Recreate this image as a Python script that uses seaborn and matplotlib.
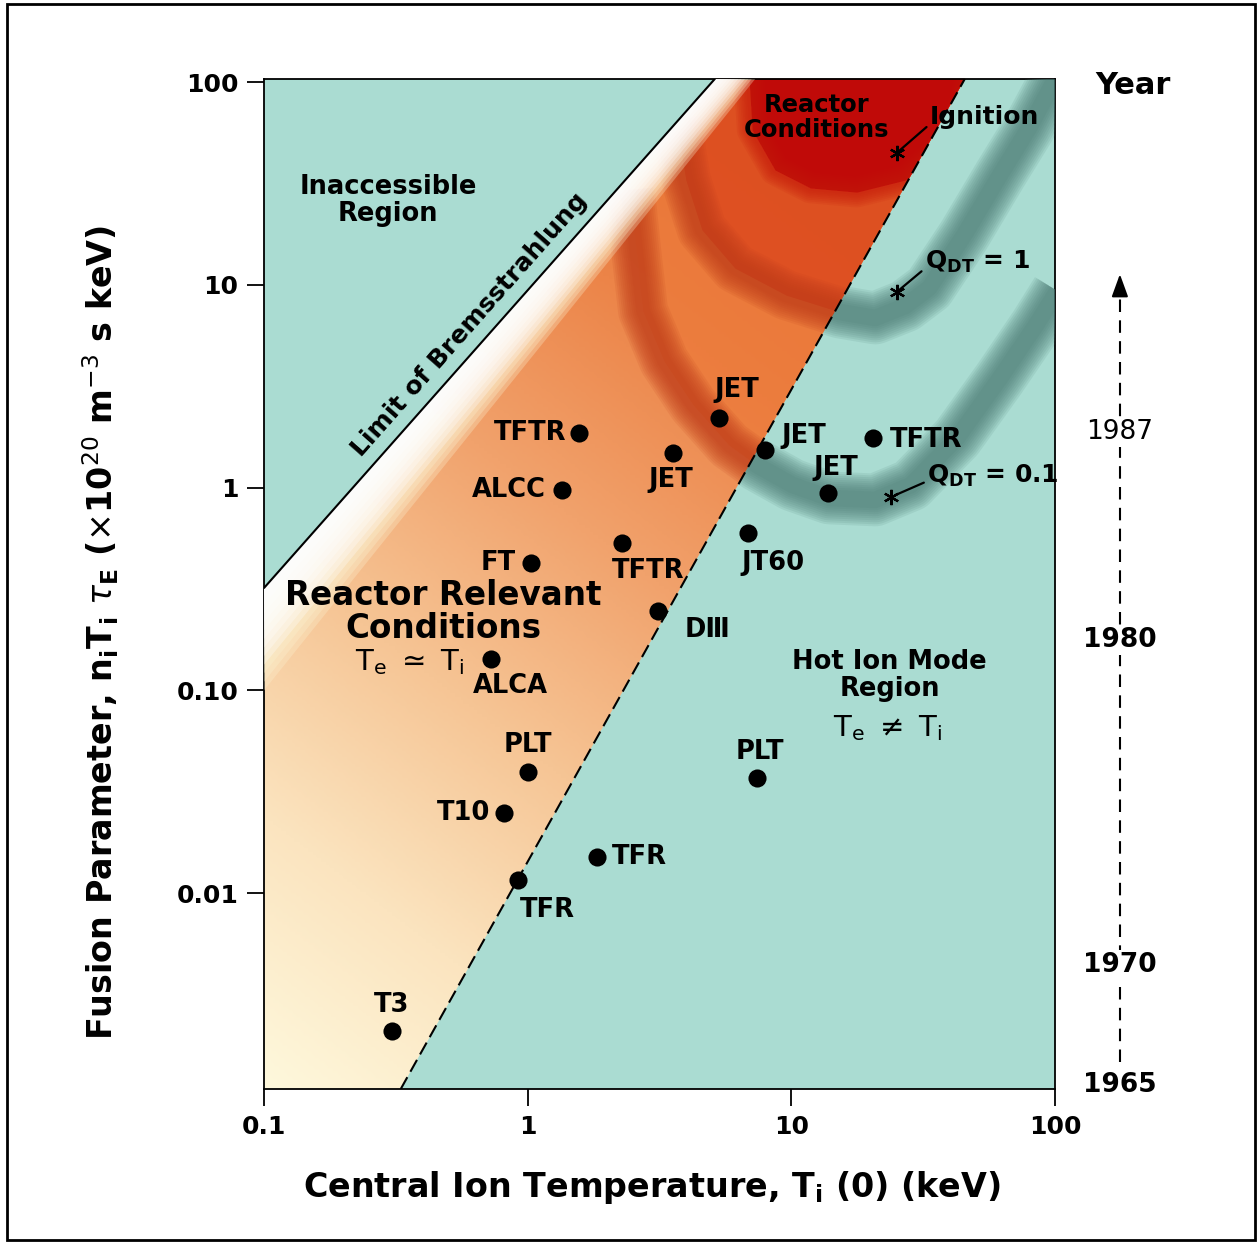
import numpy as np
import matplotlib
matplotlib.use("Agg")
import matplotlib.pyplot as plt
import seaborn as sns
from matplotlib.colors import LinearSegmentedColormap
from matplotlib.patches import Polygon, Rectangle
from matplotlib.ticker import NullLocator
from matplotlib.transforms import blended_transform_factory

# tokamak results: central ion temperature (keV) vs n_i T_i tau_E (1e20 m^-3 s keV)
machines = ["T3", "TFR", "TFR", "T10", "PLT", "PLT", "ALCA", "D\u2162", "FT", "TFTR",
            "ALCC", "TFTR", "JET", "JET", "JET", "JET", "TFTR", "JT60"]
ion_temp = [0.305, 0.918, 1.83, 0.813, 1.0, 7.41, 0.726, 3.12, 1.03, 2.28,
            1.35, 1.57, 3.56, 5.31, 7.94, 13.8, 20.4, 6.84]
fusion_par = [0.00208, 0.0116, 0.0151, 0.0248, 0.0395, 0.0369, 0.143, 0.246, 0.425, 0.533,
              0.973, 1.86, 1.48, 2.20, 1.53, 0.94, 1.76, 0.597]

# region boundaries
brems_T = [0.1, 5.13]
brems_n = [0.32, 104]
hotion_T = [0.33, 45.5]
hotion_n = [0.00108, 104]
white_T = [0.1, 7.3]
white_n = [0.10, 104]

# Q_DT contours and ignition
q01_T = [2.44, 2.58, 2.74, 3.29, 4.24, 5.80, 7.41, 10.1, 13.9, 20.8, 28.4, 42.5, 61.8, 84.7, 102]
q01_n = [29.4, 14.7, 7.43, 4.21, 2.56, 1.62, 1.29, 1.03, 0.89, 0.87, 1.03, 1.76, 3.47, 6.34, 9.33]
q1_T = [3.65, 3.98, 4.58, 6.11, 9.55, 15.3, 20.8, 27.0, 33.3, 45.2, 61.8, 79.6, 100]
q1_n = [65.1, 32.9, 18.7, 12.1, 8.91, 7.35, 6.87, 7.87, 9.66, 17.6, 34.8, 59.4, 103]
ign_T = [6.84, 7.10, 8.67, 11.8, 17.7, 27.0, 36.6, 44.4, 49.7]
ign_n = [129, 58.1, 36.9, 30.1, 28.7, 32.9, 46.3, 72.9, 129]

star_T = [25.1, 25.1, 23.9]
star_n = [44.8, 9.23, 0.90]
star_text = ["Ignition", r"Q$_\mathbf{DT}$ = 1", r"Q$_\mathbf{DT}$ = 0.1"]

years = ["1965", "1970", "1980", "1987"]
year_level = [0.00113, 0.00441, 0.177, 1.88]

x_ticks = [0.1, 1, 10, 100]
x_labels = ["0.1", "1", "10", "100"]
y_ticks = [0.01, 0.1, 1, 10, 100]
y_labels = ["0.01", "0.10", "1", "10", "100"]

# label placement (points from the dot) and alignment
lab_off = [(0, 18.7), (20.9, -21.6), (10.8, 0), (-10, 0), (0, 19.4), (2, 18.7), (13.7, -19.4),
           (36, -13.7), (-10.8, 0), (18.7, -20.2), (-11.5, 0), (-9.4, 0), (-2, -19.4),
           (13, 20), (12.2, 10), (5.8, 18), (12.2, -1.4), (18, -21.6)]
lab_ha = ["center", "center", "left", "right", "center", "center", "center", "center", "right",
          "center", "right", "right", "center", "center", "left", "center", "left", "center"]
star_off = [(23.8, 25.9), (20.2, 21.6), (25.9, 15.1)]
star_rel = [(0.0, 0.2), (0.0, 0.25), (0.0, 0.3)]
year_weight = ["bold", "bold", "bold", "normal"]

sns.set_theme(style="white", rc={"text.color": "black", "axes.labelcolor": "black",
                                 "xtick.color": "black", "ytick.color": "black",
                                 "axes.edgecolor": "black"})
plt.rcParams["font.family"] = ["DejaVu Sans"]
plt.rcParams["mathtext.fontset"] = "dejavusans"

fig = plt.figure(figsize=(12.59, 12.45), dpi=100)
ax = fig.add_axes([0.2097, 0.1253, 0.6283, 0.8112])
ax.set_xscale("log")
ax.set_yscale("log")
ax.set_xlim(0.1, 100)
ax.set_ylim(0.00108, 103.7)
ax.set_facecolor("#aadcd2")
x0, x1 = ax.get_xlim()
y0, y1 = ax.get_ylim()


def soft_line(T, n, color, clip, wide, narrow, steps, alpha, z=3):
    # airbrushed band: stacked translucent strokes
    for lw in np.linspace(wide, narrow, steps):
        ln, = ax.plot(T, n, color=color, lw=lw, alpha=alpha, solid_capstyle="butt",
                      solid_joinstyle="round", zorder=z)
        ln.set_clip_path(clip)


# clipping regions
reactor = Polygon([(brems_T[0], brems_n[0]), (brems_T[1], brems_n[1]),
                   (hotion_T[1], hotion_n[1]), (hotion_T[0], hotion_n[0]), (x0, y0)],
                  closed=True, fc="none", ec="none", transform=ax.transData)
ax.add_patch(reactor)
hotion = Polygon([(hotion_T[0], hotion_n[0]), (hotion_T[1], hotion_n[1]),
                  (x1 * 1.2, hotion_n[1]), (x1 * 1.2, y0)],
                 closed=True, fc="none", ec="none", transform=ax.transData)
ax.add_patch(hotion)

# reactor relevant region shading
grad_cmap = LinearSegmentedColormap.from_list(
    "reactor", ["#fef8dc", "#fbe4bf", "#f6c595", "#f1a26c", "#ec8448", "#e46a30"])
gx, gy = np.meshgrid(np.linspace(0, 1, 300), np.linspace(0, 1, 300))
shade = np.clip(0.75 * gy + 0.45 * gx, 0, 1)
img = ax.imshow(shade, cmap=grad_cmap, origin="lower", extent=(0, 1, 0, 1),
                transform=ax.transAxes, aspect="auto", interpolation="bilinear", zorder=1)
img.set_clip_path(reactor)

for T, n, col, a in [(q01_T, q01_n, "#ec7a3a", 0.7),
                     (q1_T, q1_n, "#dc4a1e", 0.85),
                     (ign_T, ign_n, "#c00a08", 1.0)]:
    f = ax.fill_between(T, n, 1000, color=col, alpha=a, lw=0, zorder=2)
    f.set_clip_path(reactor)
soft_line(ign_T, ign_n, "#c81a0c", reactor, 22, 4, 8, 0.12, z=2.5)

# Q bands, dark orange inside the reactor region, grey-green in the hot ion region
for T, n in [(q01_T, q01_n), (q1_T, q1_n)]:
    soft_line(T, n, "#c03c1a", reactor, 36, 10, 10, 0.12)
    soft_line(T, n, "#4a7a73", hotion, 38, 12, 10, 0.12)

# white strip below the Bremsstrahlung limit
for frac in np.linspace(1.0, 0.08, 12):
    lo = brems_n[0] ** (1 - frac) * white_n[0] ** frac
    hi = brems_T[1] ** (1 - frac) * white_T[1] ** frac
    col = "#fcf3d2" if frac > 0.75 else "white"
    ax.add_patch(Polygon([(brems_T[0], brems_n[0]), (brems_T[1], brems_n[1]),
                          (hi, brems_n[1]), (brems_T[0], lo)],
                         fc=col, ec="none", alpha=0.3, zorder=4))

ax.plot(brems_T, brems_n, color="black", lw=1.5, zorder=5)
ax.plot(hotion_T, hotion_n, color="black", lw=1.5, ls=(0, (6.5, 3)), zorder=5)

# machines
sns.scatterplot(x=ion_temp, y=fusion_par, ax=ax, s=170, color="black", linewidth=0,
                zorder=7, legend=False)
for name, T, n, off, ha in zip(machines, ion_temp, fusion_par, lab_off, lab_ha):
    ax.annotate(name, (T, n), xytext=off, textcoords="offset points", ha=ha, va="center",
                fontsize=18.5, fontweight="bold", zorder=8)

ax.plot(star_T, star_n, ls="none", marker=(6, 2, 0), ms=11, mew=1.6, color="black", zorder=7)
for txt, T, n, off, rel in zip(star_text, star_T, star_n, star_off, star_rel):
    ax.annotate(txt, (T, n), xytext=off, textcoords="offset points", ha="left", va="center",
                fontsize=18, fontweight="bold", zorder=8,
                arrowprops=dict(arrowstyle="-", color="black", lw=1.6, shrinkA=0, shrinkB=3,
                                relpos=rel))

# region labels
ax.text(0.295, 26.2, "Inaccessible\nRegion", ha="center", va="center", fontsize=18.5,
        fontweight="bold", linespacing=1.05, zorder=8)
ax.text(0.604, 6.34, "Limit of Bremsstrahlung", ha="center", va="center", rotation=48.5,
        rotation_mode="anchor", fontsize=18, fontweight="bold", zorder=8)
ax.text(12.5, 67.3, "Reactor\nConditions", ha="center", va="center", fontsize=17.5,
        fontweight="bold", linespacing=1.05, zorder=8)
ax.text(0.478, 0.243, "Reactor Relevant\nConditions", ha="center", va="center", fontsize=23.5,
        fontweight="bold", linespacing=1.0, zorder=8)
ax.text(0.358, 0.138, r"T$_\mathregular{e}$ $\simeq$ T$_\mathregular{i}$", ha="center",
        va="center", fontsize=21, zorder=8)
ax.text(23.6, 0.118, "Hot Ion Mode\nRegion", ha="center", va="center", fontsize=18.5,
        fontweight="bold", linespacing=1.05, zorder=8)
ax.text(23.2, 0.0652, r"T$_\mathregular{e}$ $\neq$ T$_\mathregular{i}$", ha="center",
        va="center", fontsize=21, zorder=8)

# axes styling
ax.set_xticks(x_ticks)
ax.set_xticklabels(x_labels)
ax.set_yticks(y_ticks)
ax.set_yticklabels(y_labels)
ax.xaxis.set_minor_locator(NullLocator())
ax.yaxis.set_minor_locator(NullLocator())
ax.tick_params(axis="both", which="major", direction="out", length=12.5, width=1.3,
               labelsize=18, pad=6, bottom=True, left=True, top=False, right=False)
for lab in ax.get_xticklabels() + ax.get_yticklabels():
    lab.set_fontweight("bold")
for s in ax.spines.values():
    s.set_visible(True)
    s.set_color("black")
    s.set_linewidth(1.3)

ax.set_xlabel(r"Central Ion Temperature, T$_\mathregular{i}$ (0) (keV)", fontsize=24,
              fontweight="bold")
ax.xaxis.set_label_coords(0.49, -0.098)
ax.xaxis.label.set_verticalalignment("center")
ax.set_ylabel(r"Fusion Parameter, n$_\mathregular{i}$T$_\mathregular{i}$ $\tau_\mathregular{E}$"
              r" ($\times$10$^{20}$ m$^{-3}$ s keV)", fontsize=24, fontweight="bold")
ax.yaxis.set_label_coords(-0.207, 0.4525)
ax.yaxis.label.set_verticalalignment("center")

# year scale on the right
yr = blended_transform_factory(ax.transAxes, ax.transData)
ax.plot([1.082, 1.082], [0.00147, 9.4], transform=yr, color="black", lw=1.5,
        ls=(0, (6, 4)), clip_on=False)
ax.annotate("", xy=(1.082, 11.3), xytext=(1.082, 9.0), xycoords=yr, textcoords=yr,
            arrowprops=dict(arrowstyle="-|>,head_length=0.55,head_width=0.2", color="black",
                            lw=1.5, mutation_scale=25, shrinkA=0, shrinkB=0),
            annotation_clip=False)
for label, lvl, w in zip(years, year_level, year_weight):
    ax.text(1.082, lvl, label, transform=yr, ha="center", va="center", fontsize=19,
            fontweight=w, clip_on=False, bbox=dict(fc="white", ec="none", pad=1.5))
ax.text(1.099, 0.994, "Year", transform=ax.transAxes, ha="center", va="center", fontsize=22,
        fontweight="bold")

fig.patches.append(Rectangle((0.0056, 0.004), 0.9913, 0.9928, transform=fig.transFigure,
                             fill=False, ec="black", lw=2))

fig.savefig("out.png", dpi=100)
